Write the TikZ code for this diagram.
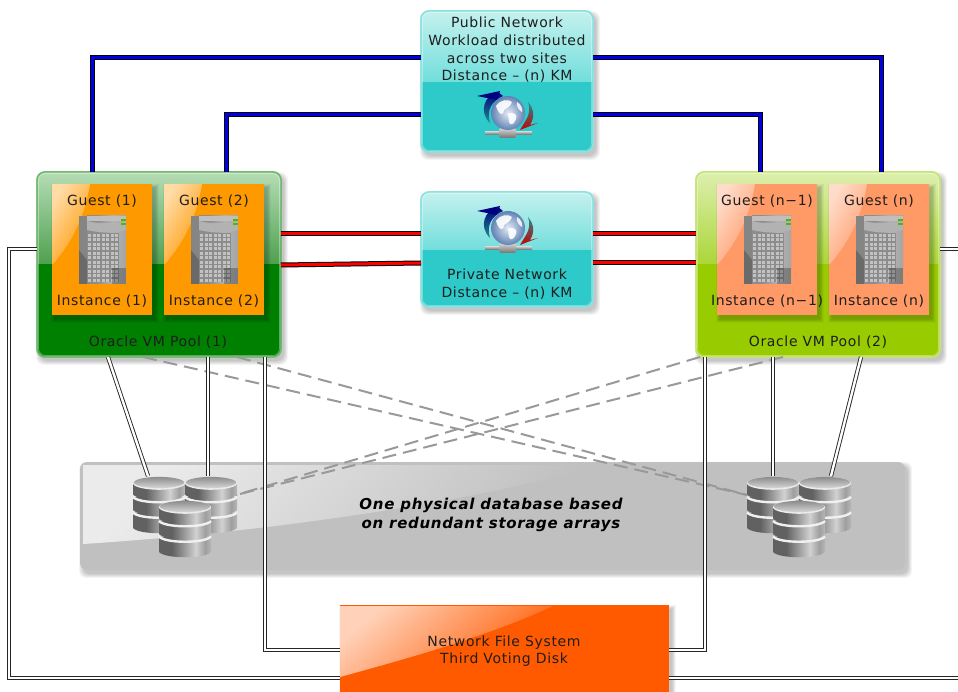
\documentclass[tikz,border=0pt]{standalone}
\usepackage{fontspec}
\setmainfont[LetterSpace=4.5]{DejaVu Sans}
\usetikzlibrary{calc}
\definecolor{tealbase}{HTML}{2EC9C9}
\definecolor{tealtop}{HTML}{C4F1EE}
\definecolor{tealmid}{HTML}{72DEDC}
\definecolor{greenbase}{HTML}{008000}
\definecolor{greentop}{HTML}{B5DDB5}
\definecolor{greenmid}{HTML}{4FA04F}
\definecolor{limebase}{HTML}{99CC00}
\definecolor{limetop}{HTML}{DDEFAE}
\definecolor{limemid}{HTML}{ABD638}
\definecolor{orangebox}{HTML}{FF9900}
\definecolor{salmonbox}{HTML}{FF9966}
\definecolor{storagegrey}{HTML}{C0C0C0}
\definecolor{nfsorange}{HTML}{FF5A00}
\definecolor{inktext}{HTML}{1E1E1E}
\definecolor{globeedge}{HTML}{5F82B5}
\pgfdeclarehorizontalshading{barrel}{100bp}{color(0bp)=(black!62);color(25bp)=(black!62);color(34bp)=(black!45);color(48bp)=(black!18);color(57bp)=(black!38);color(66bp)=(black!22);color(75bp)=(black!60)}
\pgfdeclarehorizontalshading{servbody}{100bp}{color(0bp)=(black!45);color(25bp)=(black!45);color(45bp)=(black!30);color(62bp)=(black!35);color(75bp)=(black!50)}
\tikzset{
  panelbody/.style={anchor=north west,inner sep=0pt,outer sep=0pt,rounded corners=8pt,line width=1.5pt},
  guestbody/.style={anchor=north west,inner sep=0pt,outer sep=0pt,minimum width=100pt,minimum height=131pt},
  flatbody/.style={anchor=north west,inner sep=0pt,outer sep=0pt},
  label/.style={text=inktext,font=\fontsize{14}{17.6}\selectfont,align=center,inner sep=0pt},
  dbllink/.style={draw=black!85,double=white,line width=0.9pt,double distance=2.4pt},
  bluelink/.style={draw=black,double=blue!90!black,line width=1pt,double distance=3pt},
  redlink/.style={draw=black,double=red,line width=1pt,double distance=3pt},
  dashlink/.style={draw=black!40,line width=2pt,dash pattern=on 14pt off 7pt},
}
\newcommand\softshadow[5]{%
  \foreach \s in {0,1,2,3,4,5}{
    \fill[black,opacity=0.04,rounded corners=#5pt]
      ($(#1+3-\s*0.8,#2+4-\s*0.8)$) rectangle ($(#3+3+\s*0.8,#4+4+\s*0.8)$);
  }}
\newcommand\panel[9]{%
  \softshadow{#2}{#3}{#4}{#5}{8}
  \pgfmathsetmacro\pw{#4-#2}\pgfmathsetmacro\ph{#5-#3}
  \node[panelbody,draw=#9!55!white,fill=#9,minimum width=\pw pt,minimum height=\ph pt] (#1) at (#2,#3) {};
  \begin{scope}
    \clip[rounded corners=8pt] (#2,#3) rectangle (#4,#5);
    \shade[top color=#7,bottom color=#8] (#2,#3) rectangle (#4,#6);
  \end{scope}
  \draw[rounded corners=8pt,draw=#9!55!white,line width=1.5pt] (#2,#3) rectangle (#4,#5);
  \draw[rounded corners=7pt,draw=white,opacity=0.35,line width=0.7pt] ($(#2+1.5,#3+1.5)$) rectangle ($(#4-1.5,#5-1.5)$);
}
\newcommand\serverglyph[2]{%
  \begin{scope}[shift={(#1,#2)}]
    \fill[black!48] (0,0) rectangle (8,68);
    \shade[shading=servbody] (8,0) rectangle (47,68);
    \fill[black!25] (8,0) rectangle (47,5);
    \fill[black!30] (8,5) .. controls (20,8) and (35,8) .. (47,5) -- (47,14) .. controls (35,17) and (20,17) .. (8,14) -- cycle;
    \foreach \gx in {0,...,6}{\foreach \gy in {0,...,10}{
      \fill[black!45] ($(8.5+\gx*4.5,17+\gy*4.5)$) rectangle ++(4.5,4.5);
      \fill[black!24] ($(9.3+\gx*4.5,17.8+\gy*4.5)$) rectangle ++(3,3);
    }}
    \fill[black,opacity=.2] (0,34) -- (8,44) -- (8,68) -- (0,68) -- cycle;
    \fill[black,opacity=.25] (33,52) -- (47,52) -- (47,68) -- (33,68) -- cycle;
    \fill[green!60!black!70!yellow] (42,3) rectangle (47,5);
    \fill[green!60!black!70!yellow] (42,7) rectangle (47,9);
  \end{scope}}
\newcommand\guestbox[7]{%
  \softshadow{#2}{184}{\the\numexpr#2+100\relax}{315}{0}
  \node[guestbody,fill=#3] (#1) at (#2,184) {};
  \shade[left color=#3!35!white,middle color=#3!85!white,right color=#3,shading angle=60]
    (#2,184) -- ++(38,0) .. controls ($(#2+32,220)$) and ($(#2+18,245)$) .. ($(#2,265)$) -- cycle;
  \serverglyph{\the\numexpr#2+27\relax}{216}
  \node[label] (#1t) at (#2+50,#4) {#5};
  \node[label] (#1b) at (#2+50,#6) {#7};
}
\newcommand\globeglyph[2]{%
  \begin{scope}[shift={(#1,#2)}]
    \shade[top color=blue!50!black,bottom color=tealbase!70!black]
      (-10,-21) .. controls (-23,-18) and (-30,-2) .. (-18,10) .. controls (-22,-3) and (-16,-12) .. (-5,-17) -- cycle;
    \fill[blue!50!black] (-31,-17) -- (-8,-22) -- (-11,-13) -- cycle;
    \shade[top color=tealbase!70!black,bottom color=red!80!black]
      (20,-11) .. controls (26,-4) and (27,4) .. (22,12) -- (30,10) -- (12,17) -- (18,7) .. controls (22,0) and (22,-5) .. (20,-11) -- cycle;
    \shade[top color=black!20,bottom color=black!60] (-23,18.5) rectangle (24,22);
    \shade[top color=black!15,bottom color=black!55,rounded corners=1.5pt] (-9,15) rectangle (8,25);
    \shade[inner color=white!85!globeedge,outer color=globeedge] (0,0) circle (17);
    \fill[white,opacity=.9] (-12,-7) .. controls (-7,-14) and (0,-14) .. (4,-11) .. controls (2,-6) and (-1,-5) .. (-4,-3) .. controls (-4,3) and (-9,3) .. (-12,-7) -- cycle;
    \fill[white,opacity=.9] (0,1) .. controls (6,-2) and (10,2) .. (8,6) .. controls (6,12) and (2,13) .. (1,9) -- cycle;
    \fill[white,opacity=.85] (9,-11) .. controls (13,-9) and (15,-4) .. (14,-1) .. controls (11,-3) and (8,-6) .. (9,-11) -- cycle;
  \end{scope}}
\newcommand\disc[4]{% x, y, body height, top flag
  \shade[shading=barrel] (#1,#2) -- ++(0,#3) .. controls ($(#1+6,#2+#3+7)$) and ($(#1+46,#2+#3+7)$) .. ($(#1+52,#2+#3)$) -- ($(#1+52,#2)$) -- cycle;
  \ifnum#4=1
    \fill[black!8] ($(#1+26,#2+0.8)$) ellipse (26 and 6.5);
    \shade[top color=black!45,bottom color=black!16] ($(#1+26,#2)$) ellipse (25 and 5.6);
  \else
    \draw[black!6,line width=2.4pt] (#1,#2) .. controls ($(#1+6,#2+7)$) and ($(#1+46,#2+7)$) .. ($(#1+52,#2)$);
  \fi}
\newcommand\cylinder[2]{%
  \disc{#1}{#2+36.5}{15.5}{0}
  \disc{#1}{#2+21}{13}{0}
  \disc{#1}{#2+6.5}{12}{1}}
\newcommand\dbstack[2]{%
  \cylinder{#1}{#2}
  \cylinder{#1+52}{#2}
  \cylinder{#1+26}{#2+24}}
\begin{document}
\begin{tikzpicture}[x=1pt,y=-1pt]
\useasboundingbox (0,0) rectangle (958,692);
\fill[white] (0,0) rectangle (958,692);

% storage band
\softshadow{80}{462}{905}{570}{7}
\node[flatbody,fill=storagegrey,rounded corners=7pt,minimum width=825pt,minimum height=108pt] (store) at (80,462) {};
\begin{scope}
  \clip[rounded corners=7pt] (80,462) rectangle (905,570);
  \shade[left color=white!92!black,middle color=white!35!storagegrey,right color=storagegrey,shading angle=50]
    (83,465) -- (600,465) .. controls (500,495) and (300,530) .. (83,544) -- cycle;
\end{scope}
\node[text=black,font=\fontsize{15}{19}\bfseries\itshape\selectfont,align=center,inner sep=0pt] (storelabel) at (491,515)
  {One physical database based\\on redundant storage arrays};

% networks
\panel{pub}{421}{11}{593}{152}{82}{tealtop}{tealmid}{tealbase}
\globeglyph{508}{113}
\node[label] (publabel) at (507,50) {Public Network\\Workload distributed\\across two sites\\Distance – (n) KM};
\panel{priv}{421}{192}{593}{307}{250}{tealtop}{tealmid}{tealbase}
\globeglyph{508}{228}
\node[label] (privlabel) at (507,284) {Private Network\\Distance – (n) KM};

% pools
\panel{poolA}{37}{172}{281}{357}{264}{greentop}{greenmid}{greenbase}
\guestbox{gA}{52}{orangebox}{201}{Guest (1)}{301}{Instance (1)}
\guestbox{gB}{164}{orangebox}{201}{Guest (2)}{301}{Instance (2)}
\node[label] (poolAlabel) at (158,342) {Oracle VM Pool (1)};
\panel{poolB}{696}{172}{940}{357}{264}{limetop}{limemid}{limebase}
\guestbox{gC}{717}{salmonbox}{201}{Guest (n−1)}{301}{Instance (n−1)}
\guestbox{gD}{829}{salmonbox}{201}{Guest (n)}{301}{Instance (n)}
\node[label] (poolBlabel) at (818,342) {Oracle VM Pool (2)};

% NFS box
\softshadow{340}{605}{669}{692}{0}
\node[flatbody,fill=nfsorange,minimum width=329pt,minimum height=87pt] (nfs) at (340,605) {};
\shade[left color=white!72!nfsorange,middle color=white!28!nfsorange,right color=nfsorange,shading angle=40]
  (340,606) -- (553,606) .. controls (490,635) and (420,655) .. (340,677) -- cycle;
\node[label] (nfslabel) at (504,651) {Network File System\\Third Voting Disk};

% database anchors
\node[flatbody,minimum width=103pt,minimum height=81pt] (dbL) at (133,476) {};
\node[flatbody,minimum width=103pt,minimum height=81pt] (dbR) at (747,476) {};
\coordinate (edgeL) at (958,249);
\coordinate (edgeB) at (958,678);

% blue links
\draw[bluelink] ([xshift=55pt]poolA.north west) |- ([yshift=-47pt]pub.north west);
\draw[bluelink] ([xshift=189pt]poolA.north west) |- ([yshift=-104pt]pub.north west);
\draw[bluelink] ([yshift=-47pt]pub.north east) -| ([xshift=185pt]poolB.north west);
\draw[bluelink] ([yshift=-104pt]pub.north east) -| ([xshift=64pt]poolB.north west);
% red links
\draw[redlink] ([yshift=-62pt]poolA.north east) -- ([yshift=-42pt]priv.north west);
\draw[redlink] ([yshift=-93pt]poolA.north east) -- ([yshift=-71pt]priv.north west);
\draw[redlink] ([yshift=-42pt]priv.north east) -- ([yshift=-62pt]poolB.north west);
\draw[redlink] ([yshift=-71pt]priv.north east) -- ([yshift=-91pt]poolB.north west);
% dashed cross links
\draw[dashlink] ([xshift=106pt]poolA.south west) -- ([yshift=-19pt]dbR.north west);
\draw[dashlink] ([xshift=200pt]poolA.south west) -- ([yshift=-19pt]dbR.north west);
\draw[dashlink] ([xshift=4pt]poolB.south west) -- ([yshift=-19pt]dbL.north east);
\draw[dashlink] ([xshift=87pt]poolB.south west) -- ([yshift=-19pt]dbL.north east);
% white double links
\draw[dbllink] ([yshift=-77pt]poolA.north west) -- ++(-28,0) |- ([yshift=-73pt]nfs.north west);
\draw[dbllink] ([xshift=228pt]poolA.south west) |- ([yshift=-45pt]nfs.north west);
\draw[dbllink] ([xshift=9pt]poolB.south west) |- ([yshift=-45pt]nfs.north east);
\draw[dbllink] ([yshift=-73pt]nfs.north east) -- (edgeB);
\draw[dbllink] ([yshift=-77pt]poolB.north east) -- (edgeL);
\draw[dbllink] ([xshift=71pt]poolA.south west) -- ([xshift=15pt]dbL.north west);
\draw[dbllink] ([xshift=171pt]poolA.south west) -- ([xshift=75pt]dbL.north west);
\draw[dbllink] ([xshift=77pt]poolB.south west) -- ([xshift=26pt]dbR.north west);
\draw[dbllink] ([xshift=165pt]poolB.south west) -- ([xshift=84pt]dbR.north west);

% database icons
\dbstack{133}{476}
\dbstack{747}{476}
\end{tikzpicture}
\end{document}
